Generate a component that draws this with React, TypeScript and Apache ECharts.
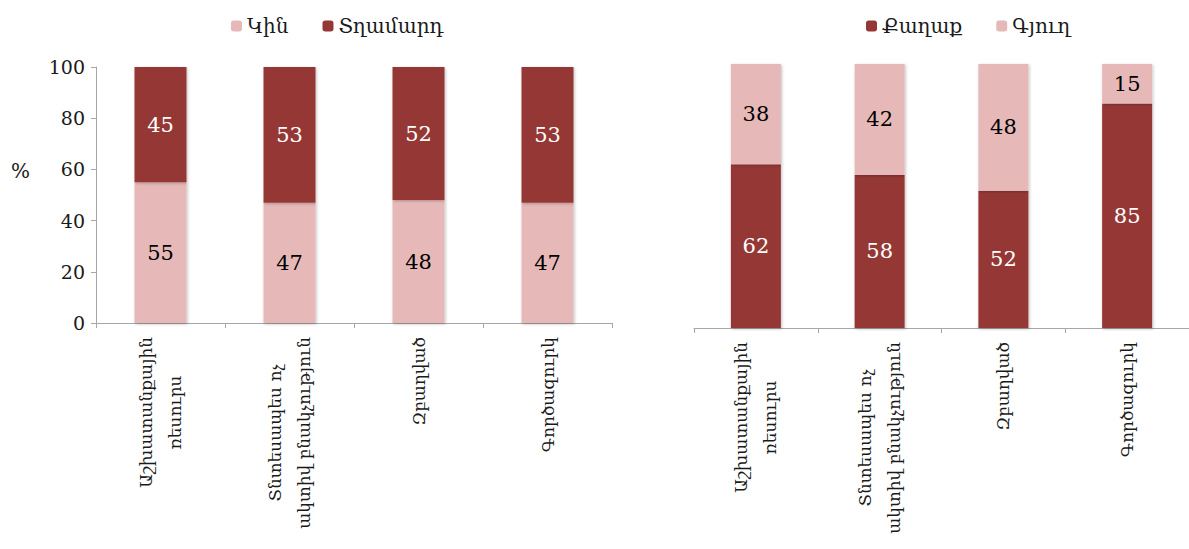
import React, { useEffect, useRef } from "react";
import * as echarts from "echarts";

const categories = [
  "Աշխատանքային\nռեսուրս",
  "Տնտեսապես ոչ\nակտիվ բնակչություն",
  "Զբաղված",
  "Գործազուրկ",
];
const seriesLeftNames = ["Կին", "Տղամարդ"];
const women = [55, 47, 48, 47];
const men = [45, 53, 52, 53];
const seriesRightNames = ["Քաղաք", "Գյուղ"];
const city = [62, 58, 52, 85];
const village = [38, 42, 48, 15];
const yTicks = { min: 0, max: 100, interval: 20 };

const PINK = "#E6B9B8";
const DARK = "#953735";
const FONT = "'DejaVu Serif', 'Liberation Serif', serif";
const AXIS = "#A6A6A6";

export default function App() {
  const ref = useRef<HTMLDivElement>(null);
  useEffect(() => {
    const chart = echarts.init(ref.current!, null, { renderer: "svg" });
    const catLabel = {
      rotate: 90,
      margin: 14,
      interval: 0,
      color: "#1a1a1a",
      fontFamily: FONT,
      fontSize: 17,
      lineHeight: 29,
      formatter: (v: string) =>
        v
          .split("\n")
          .map((l) => `{c|${l}}`)
          .join("\n"),
      rich: {
        c: { align: "center", fontFamily: FONT, fontSize: 17, lineHeight: 29, color: "#1a1a1a" },
      },
    };
    const shadow = {
      shadowColor: "rgba(0,0,0,0.25)",
      shadowBlur: 3,
      shadowOffsetX: 1,
      shadowOffsetY: 1,
    };
    const lbl = (color: string) => ({
      show: true,
      position: "inside",
      color,
      fontFamily: FONT,
      fontSize: 21,
    });
    chart.setOption({
      animation: false,
      legend: [
        {
          data: seriesLeftNames,
          left: 226,
          top: 11,
          itemWidth: 11,
          itemHeight: 11,
          itemGap: 34,
          textStyle: { fontFamily: FONT, fontSize: 20, color: "#1a1a1a" },
        },
        {
          data: seriesRightNames,
          left: 861,
          top: 11,
          itemWidth: 11,
          itemHeight: 11,
          itemGap: 34,
          textStyle: { fontFamily: FONT, fontSize: 20, color: "#1a1a1a" },
        },
      ],
      graphic: [
        {
          type: "text",
          left: 11,
          top: 161,
          style: { text: "%", fontFamily: FONT, fontSize: 20, fill: "#1a1a1a" },
        },
      ],
      grid: [
        { left: 96, top: 67, width: 516, height: 256 },
        { left: 694, top: 64, width: 502, height: 264 },
      ],
      xAxis: [
        {
          type: "category",
          gridIndex: 0,
          data: categories,
          axisLine: { lineStyle: { color: AXIS } },
          axisTick: { show: true, length: 5, lineStyle: { color: AXIS } },
          axisLabel: catLabel,
        },
        {
          type: "category",
          gridIndex: 1,
          data: categories,
          axisLine: { lineStyle: { color: AXIS } },
          axisTick: { show: true, length: 5, lineStyle: { color: AXIS } },
          axisLabel: catLabel,
        },
      ],
      yAxis: [
        {
          type: "value",
          gridIndex: 0,
          ...yTicks,
          axisLine: { show: true, lineStyle: { color: AXIS } },
          axisTick: { show: true, length: 5, lineStyle: { color: AXIS } },
          splitLine: { show: false },
          axisLabel: { fontFamily: FONT, fontSize: 19, color: "#1a1a1a", margin: 11 },
        },
        {
          type: "value",
          gridIndex: 1,
          ...yTicks,
          show: false,
          splitLine: { show: false },
        },
      ],
      series: [
        {
          name: seriesLeftNames[0],
          type: "bar",
          stack: "L",
          xAxisIndex: 0,
          yAxisIndex: 0,
          barWidth: 52,
          data: women,
          itemStyle: { color: PINK, ...shadow },
          label: lbl("#000"),
        },
        {
          name: seriesLeftNames[1],
          type: "bar",
          stack: "L",
          xAxisIndex: 0,
          yAxisIndex: 0,
          barWidth: 52,
          data: men,
          itemStyle: { color: DARK, ...shadow },
          label: lbl("#fff"),
        },
        {
          name: seriesRightNames[0],
          type: "bar",
          stack: "R",
          xAxisIndex: 1,
          yAxisIndex: 1,
          barWidth: 50,
          data: city,
          itemStyle: { color: DARK, ...shadow },
          label: lbl("#fff"),
        },
        {
          name: seriesRightNames[1],
          type: "bar",
          stack: "R",
          xAxisIndex: 1,
          yAxisIndex: 1,
          barWidth: 50,
          data: village,
          itemStyle: { color: PINK, ...shadow },
          label: lbl("#000"),
        },
      ],
    });
    return () => chart.dispose();
  }, []);
  return (
    <div
      ref={ref}
      style={{ position: "fixed", left: 0, top: 0, width: 1189, height: 549, background: "#fff" }}
    />
  );
}
